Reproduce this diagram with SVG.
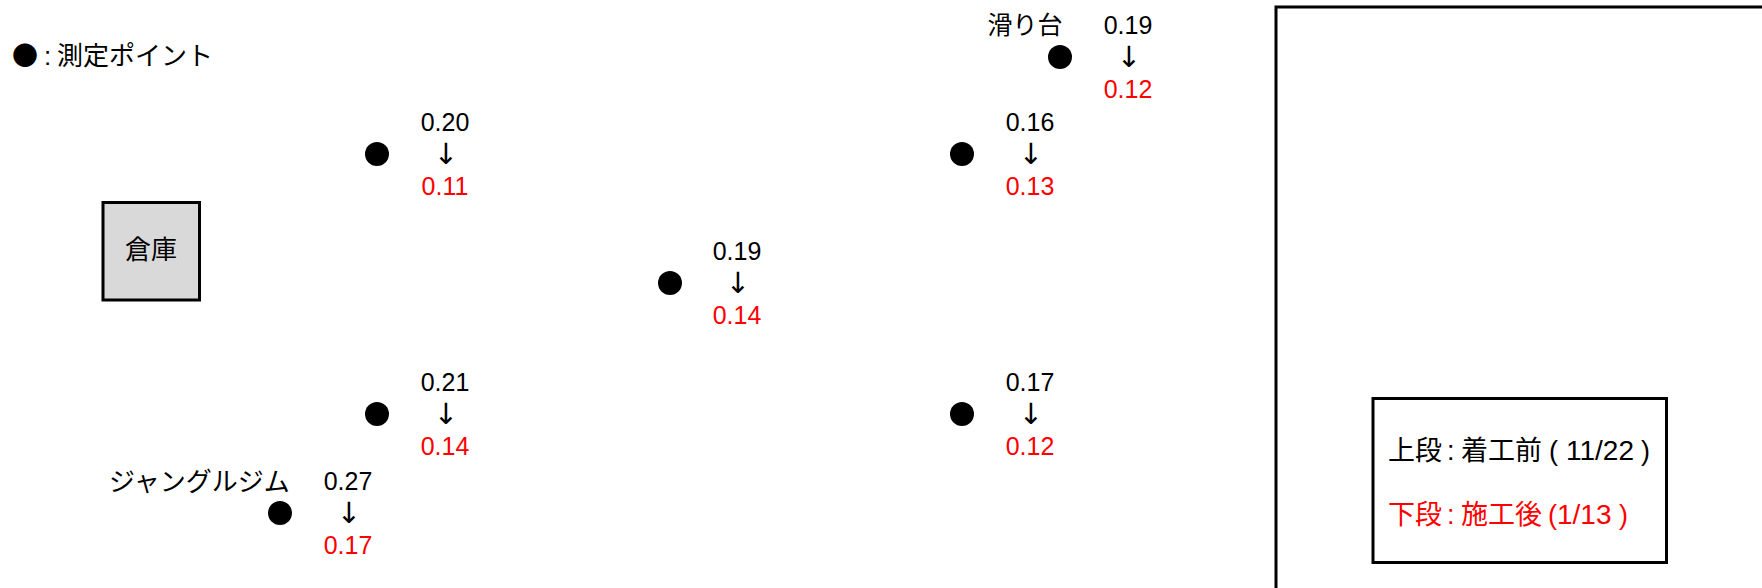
<svg xmlns="http://www.w3.org/2000/svg" width="1762" height="588" viewBox="0 0 1762 588">
<style>
text{font-family:"Liberation Sans","Noto Sans CJK JP",sans-serif;fill:#000}
.j{font-family:"Noto Sans CJK JP","Noto Sans",sans-serif}
.t{font-size:26px}
.l{font-size:27px}
.d{font-size:28px}
.v{font-size:25px;text-anchor:middle}
.a{font-family:"DejaVu Sans",sans-serif;font-size:29px;text-anchor:middle}
.r{fill:#ff0000}
.pt{fill:#000}
</style>
<rect width="1762" height="588" fill="#fff"/>
<g id="legend-point">
<text class="t" x="12" y="65"><tspan class="j">●</tspan><tspan x="44">:</tspan><tspan class="j" x="57">測定ポイント</tspan></text>
</g>
<g id="outer-frame">
<rect x="1276" y="7" width="500" height="600" fill="none" stroke="#000" stroke-width="3"/>
</g>
<g id="legend-box">
<rect x="1373" y="398.5" width="293.5" height="164" fill="#fff" stroke="#000" stroke-width="3"/>
<text class="l" x="1388" y="460"><tspan class="j">上段</tspan><tspan x="1447">:</tspan><tspan class="j" x="1461">着工前</tspan><tspan x="1549">(</tspan><tspan class="d" x="1566">11/22</tspan><tspan x="1641">)</tspan></text>
<text class="l r" x="1388" y="524"><tspan class="j">下段</tspan><tspan x="1447">:</tspan><tspan class="j" x="1461">施工後</tspan><tspan x="1548">(</tspan><tspan class="d" x="1557">1/13</tspan><tspan x="1619">)</tspan></text>
</g>
<g id="souko">
<rect x="103" y="202.5" width="96.5" height="97.5" fill="#d9d9d9" stroke="#000" stroke-width="3"/>
<text class="t j" x="151" y="259" text-anchor="middle">倉庫</text>
</g>
<g id="label-suberidai"><text class="v j" x="1025" y="34">滑り台</text></g>
<g id="label-junglegym"><text class="t j" x="109" y="491">ジャングルジム</text></g>
<g id="p1"><circle class="pt" cx="377" cy="154" r="12"/><text class="v" x="445" y="131">0.20</text><text class="a" x="446" y="164">↓</text><text class="v r" x="445" y="195">0.11</text></g>
<g id="p2"><circle class="pt" cx="1060" cy="57" r="12"/><text class="v" x="1128" y="34">0.19</text><text class="a" x="1129" y="67">↓</text><text class="v r" x="1128" y="98">0.12</text></g>
<g id="p3"><circle class="pt" cx="962" cy="154" r="12"/><text class="v" x="1030" y="131">0.16</text><text class="a" x="1031" y="164">↓</text><text class="v r" x="1030" y="195">0.13</text></g>
<g id="p4"><circle class="pt" cx="670" cy="283" r="12"/><text class="v" x="737" y="260">0.19</text><text class="a" x="738" y="293">↓</text><text class="v r" x="737" y="324">0.14</text></g>
<g id="p5"><circle class="pt" cx="377" cy="414" r="12"/><text class="v" x="445" y="391">0.21</text><text class="a" x="446" y="424">↓</text><text class="v r" x="445" y="455">0.14</text></g>
<g id="p6"><circle class="pt" cx="962" cy="414" r="12"/><text class="v" x="1030" y="391">0.17</text><text class="a" x="1031" y="424">↓</text><text class="v r" x="1030" y="455">0.12</text></g>
<g id="p7"><circle class="pt" cx="280" cy="513" r="12"/><text class="v" x="348" y="490">0.27</text><text class="a" x="349" y="523">↓</text><text class="v r" x="348" y="554">0.17</text></g>
<g id="connectors"></g>
</svg>
